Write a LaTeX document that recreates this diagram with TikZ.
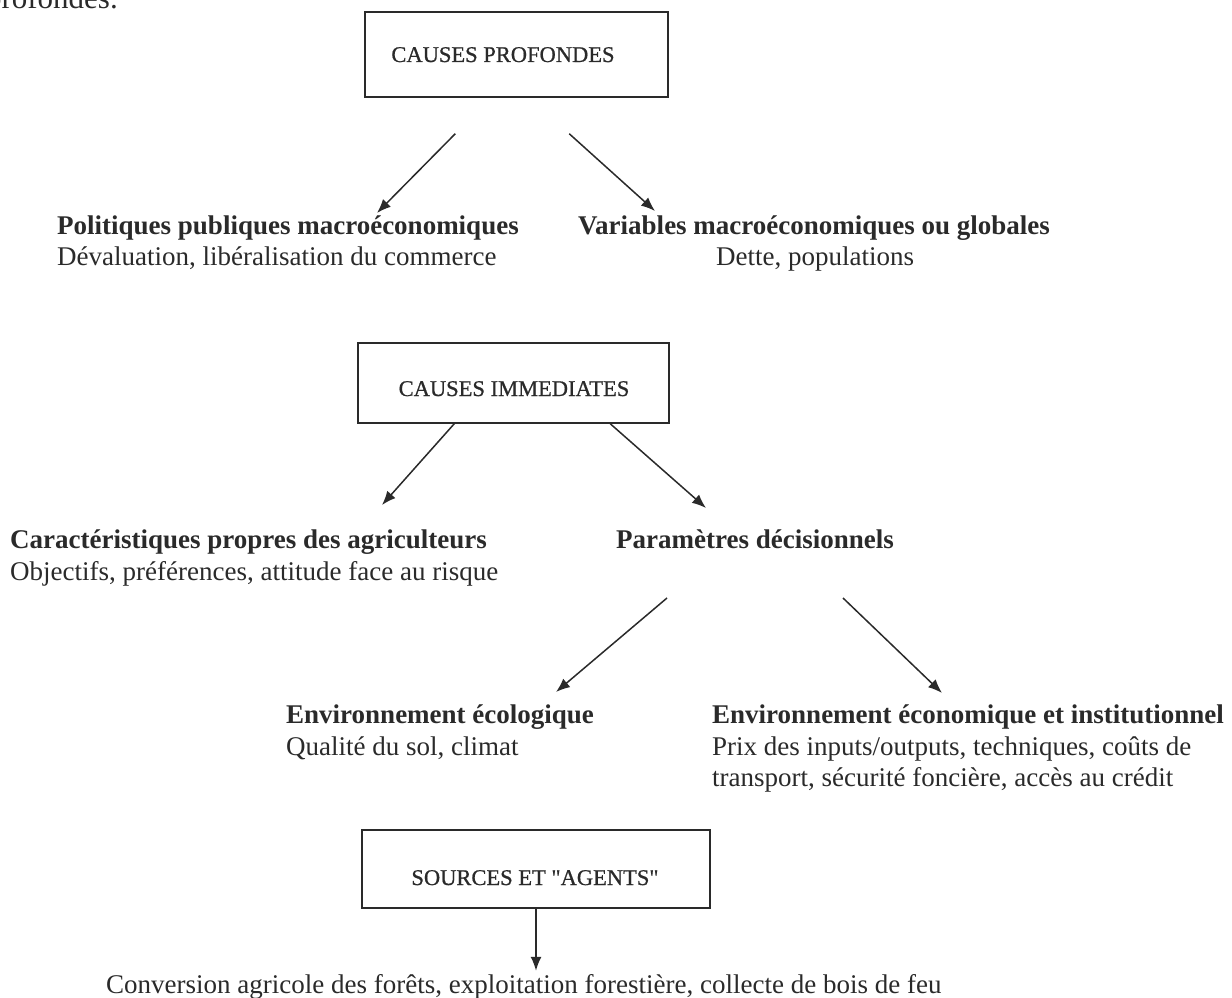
\documentclass[tikz,border=0pt]{standalone}
\usepackage{fontspec}
\setmainfont{Liberation Serif}
\newfontfamily\boxfont{Liberation Serif}[Ligatures=TeXOff, FakeBold=0.8]
\usetikzlibrary{arrows.meta,calc}
\definecolor{ink}{HTML}{2A2A2A}
\begin{document}
\begin{tikzpicture}[x=1pt,y=-1pt,
  txt/.style={font=\fontsize{27}{32}\selectfont, text=ink, inner sep=0pt},
  ttl/.style={font=\fontsize{27}{32}\selectfont\bfseries, text=ink, inner sep=0pt},
  boxlabel/.style={font=\boxfont\fontsize{22.5}{26}\selectfont, text=ink, inner sep=0pt},
  frame/.style={draw=ink, line width=1.5pt, inner sep=0pt},
  arr/.style={draw=ink, line width=1.5pt, -{Latex[length=14pt,width=11pt]}}]
\useasboundingbox (0,0) rectangle (1232,998);
% page fragment
\node[txt, font=\fontsize{31}{36}\selectfont, anchor=base east] (frag) at (118,9) {profondes.};
% boxes
\node[frame, minimum width=303pt, minimum height=85pt] (b1) at (516.5,54.5) {};
\node[boxlabel, anchor=base] (b1t) at (503,62) {CAUSES PROFONDES};
\node[frame, minimum width=311pt, minimum height=80pt] (b2) at (513.5,383) {};
\node[boxlabel, anchor=base] (b2t) at (514,396) {CAUSES IMMEDIATES};
\node[frame, minimum width=348pt, minimum height=78pt] (b3) at (536,869) {};
\node[boxlabel, anchor=base] (b3t) at (535,885) {SOURCES ET "AGENTS"};
% row 1
\node[ttl, anchor=base west] (pol) at (57,234) {Politiques publiques macroéconomiques};
\node[txt, anchor=base west] (pold) at (57,265) {Dévaluation, libéralisation du commerce};
\node[ttl, anchor=base west] (var) at (578,234) {Variables macroéconomiques ou globales};
\node[txt, anchor=base] (vard) at (815,265) {Dette, populations};
% row 2
\node[ttl, anchor=base west] (car) at (10,548) {Caractéristiques propres des agriculteurs};
\node[txt, anchor=base west] (card) at (10,580) {Objectifs, préférences, attitude face au risque};
\node[ttl, anchor=base west] (par) at (616,548) {Paramètres décisionnels};
% row 3
\node[ttl, anchor=base west] (eco) at (286,723) {Environnement écologique};
\node[txt, anchor=base west] (ecod) at (286,755) {Qualité du sol, climat};
\node[ttl, anchor=base west] (eci) at (712,723) {Environnement économique et institutionnel};
\node[txt, anchor=base west] (ecid) at (712,755) {Prix des inputs/outputs, techniques, coûts de};
\node[txt, anchor=base west] (ecid2) at (712,786) {transport, sécurité foncière, accès au crédit};
% bottom
\node[txt, anchor=base west] (conv) at (106,993) {Conversion agricole des forêts, exploitation forestière, collecte de bois de feu};
% arrows
\draw[arr] ($(b1.south west)+(91,36)$) -- ($(pol.base west)+(320,-21)$);
\draw[arr] ($(b1.south west)+(205,36)$) -- ($(var.base west)+(77,-23)$);
\draw[arr] ($(b2.south west)+(97,0)$) -- ($(car.base west)+(372,-43)$);
\draw[arr] ($(b2.south west)+(253,0)$) -- ($(par.base west)+(90,-40)$);
\draw[arr] ($(par.base west)+(51,50)$) -- ($(eco.base west)+(270,-31)$);
\draw[arr] ($(par.base west)+(227,50)$) -- ($(eci.base west)+(230,-30)$);
\draw[arr] (b3.south) -- ($(b3.south)+(0,62)$);
\end{tikzpicture}
\end{document}
